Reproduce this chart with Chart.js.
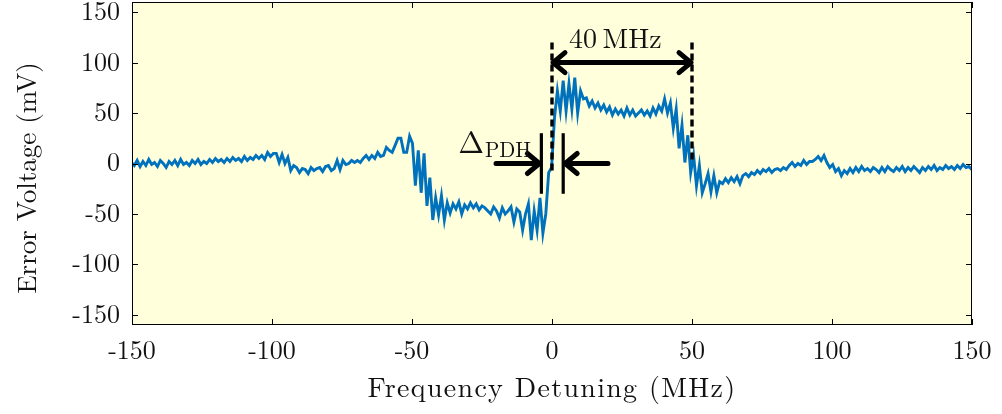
<!DOCTYPE html>
<html>
<head>
<meta charset="utf-8">
<title>PDH error signal</title>
<script src="https://cdn.jsdelivr.net/npm/chart.js@4.4.1/dist/chart.umd.min.js"></script>
<style>
  html, body { margin: 0; padding: 0; background: #fff; }
  #wrap { width: 1002px; height: 414px; }
</style>
</head>
<body>
<div id="wrap"><canvas id="pdh" width="1002" height="414"></canvas></div>
<script>
// scope sweep grid (MHz); the sweep starts a little below the plotted window
const freqStart = -155.4;
const freqStep = 1.035;

// error voltage (mV), one value per scope sample
const errorVoltage = [
  -1, 3, -3, 2, -4, 1, -2, 3, -3, 2,
  -2, 4, -1, 1, -3, 3, 0, -4, 2, -1,
  3, -2, 4, -1, 1, -2, 3, 0, 4, -1,
  2, 0, 4, 1, 5, 2, 4, 1, 5, 2,
  6, 3, 5, 2, 7, 3, 6, 4, 8, 5,
  8, 4, 11, 7, 10, 10, 1, 9, 0, 6,
  -7, -2, -4, -9, -5, -6, -10, -4, -7, -5,
  -4, -8, -3, -2, -7, -5, 3, -6, 3, -1,
  0, 3, 1, 3, 1, 5, 8, 4, 8, 5,
  11, 7, 8, 16, 13, 11, 18, 25, 25, 11,
  11, 27, 20, -22, 13, -29, 10, -42, -14, -56,
  -34, -51, -32, -56, -39, -49, -40, -45, -38, -50,
  -41, -45, -39, -44, -40, -46, -42, -44, -47, -50,
  -43, -47, -54, -44, -50, -47, -43, -58, -45, -48,
  -66, -50, -40, -76, -47, -66, -34, -69, -50, -9,
  -4, 45, 72, 52, 82, 52, 79, 54, 85, 50,
  72, 64, 65, 57, 62, 55, 60, 53, 58, 51,
  56, 48, 54, 49, 53, 47, 55, 48, 53, 47,
  50, 53, 48, 52, 47, 55, 49, 57, 52, 64,
  50, 60, 35, 54, 15, 38, 1, 28, -9, 8,
  -22, -2, -29, -20, -10, -28, -12, -29, -18, -20,
  -15, -19, -14, -18, -13, -20, -12, -10, -13, -9,
  -11, -7, -10, -6, -8, -5, -9, -6, -5, -7,
  -4, -6, -2, 1, -3, 0, -2, 3, -1, 2,
  2, 4, 7, 3, 8, 1, -4, -1, -8, -5,
  -12, -7, -10, -5, -9, -4, -8, -3, -7, -5,
  -8, -4, -6, -9, -4, -8, -3, -6, -8, -4,
  -7, -3, -8, -4, -7, -3, -6, -9, -4, -7,
  -3, -6, -2, -7, -4, -6, -2, -5, -3, -6,
  -2, -5, -1, -4, -3, -6, -1, -3, -2, -5, -3
];

const xTicks = [-150, -100, -50, 0, 50, 100, 150];
const yTicks = [-150, -100, -50, 0, 50, 100, 150];
const xRange = [-150, 150];
const yRange = [-160, 160];

// annotation anchors, data units
const sidebandMarks = [0, 50];          // dashed markers, x
const sidebandMarkTop = 120;
const sidebandMarkBottoms = [-10, 0];
const sidebandArrowY = 100;
const sidebandLabel = '40\u2009MHz';
const sidebandLabelPos = [22.6, 114];
const pdhMarks = [-3.8, 4];             // solid markers, x
const pdhMarkSpan = [-30, 30];
const pdhArrowFrom = [-20, 20];
const pdhLabelPos = [-33.5, 10];

const points = errorVoltage.map((v, i) => ({ x: freqStart + i * freqStep, y: v }));

const serif = "'Latin Modern Roman', 'Liberation Serif', serif";
const plotBg = '#ffffdc';

function arrow(ctx, x1, y, x2) {
  const dir = Math.sign(x2 - x1);
  ctx.beginPath();
  ctx.moveTo(x1, y);
  ctx.lineTo(x2, y);
  ctx.moveTo(x2 - dir * 12, y - 10);
  ctx.lineTo(x2, y);
  ctx.lineTo(x2 - dir * 12, y + 10);
  ctx.stroke();
}

const decor = {
  id: 'decor',
  beforeDraw(chart) {
    const { ctx, chartArea: a } = chart;
    ctx.save();
    ctx.fillStyle = plotBg;
    ctx.fillRect(a.left, a.top, a.right - a.left, a.bottom - a.top);
    ctx.restore();
  },
  afterDraw(chart) {
    const { ctx, chartArea: a } = chart;
    const xs = chart.scales.x, ys = chart.scales.y;
    ctx.save();

    // frame + inward ticks on all four sides
    ctx.strokeStyle = '#000';
    ctx.lineWidth = 1;
    ctx.strokeRect(a.left + 0.5, a.top + 0.5, a.right - a.left - 1, a.bottom - a.top - 1);
    ctx.beginPath();
    xTicks.forEach(v => {
      const px = Math.round(xs.getPixelForValue(v)) + 0.5;
      ctx.moveTo(px, a.bottom); ctx.lineTo(px, a.bottom - 6);
      ctx.moveTo(px, a.top); ctx.lineTo(px, a.top + 6);
    });
    yTicks.forEach(v => {
      const py = Math.round(ys.getPixelForValue(v)) + 0.5;
      ctx.moveTo(a.left, py); ctx.lineTo(a.left + 6, py);
      ctx.moveTo(a.right, py); ctx.lineTo(a.right - 6, py);
    });
    ctx.stroke();

    // sideband spacing markers
    ctx.lineWidth = 3.4;
    ctx.setLineDash([7, 4]);
    sidebandMarks.forEach((f, i) => {
      const px = xs.getPixelForValue(f);
      ctx.beginPath();
      ctx.moveTo(px, ys.getPixelForValue(sidebandMarkTop));
      ctx.lineTo(px, ys.getPixelForValue(sidebandMarkBottoms[i]));
      ctx.stroke();
    });
    ctx.setLineDash([]);
    ctx.lineWidth = 5;
    ctx.lineCap = 'round';
    ctx.lineJoin = 'round';
    const ay = ys.getPixelForValue(sidebandArrowY);
    const l = xs.getPixelForValue(sidebandMarks[0]);
    const r = xs.getPixelForValue(sidebandMarks[1]);
    arrow(ctx, (l + r) / 2, ay, l + 1);
    arrow(ctx, (l + r) / 2, ay, r - 1);

    // linewidth markers
    ctx.lineWidth = 3.2;
    ctx.lineCap = 'butt';
    pdhMarks.forEach(f => {
      const px = xs.getPixelForValue(f);
      ctx.beginPath();
      ctx.moveTo(px, ys.getPixelForValue(pdhMarkSpan[1]));
      ctx.lineTo(px, ys.getPixelForValue(pdhMarkSpan[0]));
      ctx.stroke();
    });
    ctx.lineWidth = 5;
    ctx.lineCap = 'round';
    const y0 = ys.getPixelForValue(0);
    arrow(ctx, xs.getPixelForValue(pdhArrowFrom[0]), y0, xs.getPixelForValue(pdhMarks[0]) - 2);
    arrow(ctx, xs.getPixelForValue(pdhArrowFrom[1]), y0, xs.getPixelForValue(pdhMarks[1]) + 2);

    // labels
    ctx.fillStyle = '#111';
    ctx.textAlign = 'center';
    ctx.textBaseline = 'alphabetic';
    ctx.font = '28px ' + serif;
    ctx.fillText(sidebandLabel, xs.getPixelForValue(sidebandLabelPos[0]), ys.getPixelForValue(sidebandLabelPos[1]));
    ctx.textAlign = 'left';
    const dx = xs.getPixelForValue(pdhLabelPos[0]);
    const dy = ys.getPixelForValue(pdhLabelPos[1]);
    ctx.font = '31px ' + serif;
    ctx.fillText('\u0394', dx, dy);
    const dw = ctx.measureText('\u0394').width;
    ctx.font = '21px ' + serif;
    ctx.fillText('PDH', dx + dw + 1, dy + 4);

    // axis titles
    ctx.textAlign = 'center';
    ctx.textBaseline = 'middle';
    ctx.font = '28px ' + serif;
    ctx.letterSpacing = '1.3px';
    ctx.fillText('Frequency Detuning (MHz)', (a.left + a.right) / 2, 388);
    ctx.font = '27px ' + serif;
    ctx.letterSpacing = '0px';
    ctx.translate(28, 178);
    ctx.rotate(-Math.PI / 2);
    ctx.fillText('Error Voltage (mV)', 0, 0);
    ctx.restore();
  }
};

const tickFont = { family: serif, size: 26 };

new Chart(document.getElementById('pdh'), {
  type: 'line',
  data: {
    datasets: [{
      data: points,
      borderColor: '#0072bd',
      borderWidth: 2.9,
      pointRadius: 0,
      tension: 0,
      fill: false
    }]
  },
  options: {
    responsive: false,
    animation: false,
    devicePixelRatio: 1,
    layout: { padding: { top: 2, right: 30, left: 0, bottom: 0 } },
    plugins: { legend: { display: false }, tooltip: { enabled: false } },
    scales: {
      x: {
        type: 'linear',
        min: xRange[0],
        max: xRange[1],
        afterBuildTicks: s => { s.ticks = xTicks.map(v => ({ value: v })); },
        afterFit: s => { s.height = 89; s.paddingLeft = 0; s.paddingRight = 0; },
        grid: { display: false, drawTicks: false },
        border: { display: false },
        ticks: { font: tickFont, color: '#111', padding: 10, maxRotation: 0, autoSkip: false }
      },
      y: {
        type: 'linear',
        min: yRange[0],
        max: yRange[1],
        afterBuildTicks: s => { s.ticks = yTicks.map(v => ({ value: v })); },
        afterFit: s => { s.width = 132; s.paddingTop = 0; s.paddingBottom = 0; },
        grid: { display: false, drawTicks: false },
        border: { display: false },
        ticks: { font: tickFont, color: '#111', padding: 12, autoSkip: false }
      }
    }
  },
  plugins: [decor]
});
</script>
</body>
</html>
